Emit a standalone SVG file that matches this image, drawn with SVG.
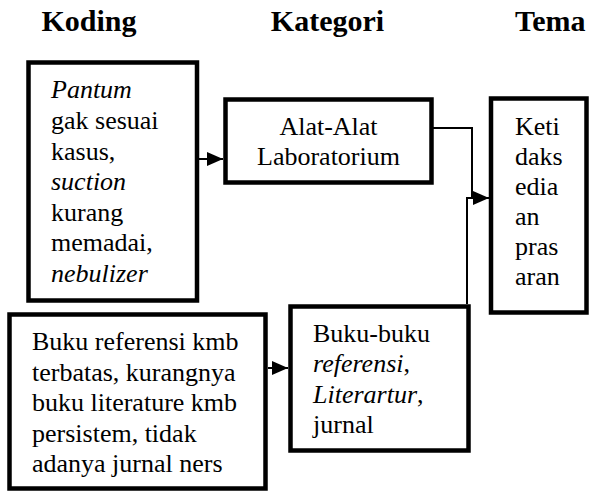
<svg xmlns="http://www.w3.org/2000/svg" width="593" height="492" viewBox="0 0 593 492">
<style>
.box{fill:#fff;stroke:#000;stroke-width:4.5}
.lbl{font-family:'Times New Roman','Liberation Serif',serif;font-size:26px;fill:#000}
.hd{font-family:'Liberation Serif','Times New Roman',serif;font-size:30px;font-weight:bold;fill:#000}
.ln{fill:none;stroke:#000;stroke-width:2}
.it{font-style:italic}
</style>
<defs>
<marker id="ah" viewBox="0 0 16 14" refX="16" refY="7" markerWidth="16" markerHeight="14" markerUnits="userSpaceOnUse" orient="auto">
<path d="M0,0 L16,7 L0,14 Z" fill="#000"/>
</marker>
</defs>
<rect width="593" height="492" fill="#fff"/>
<g id="titles">
<text class="hd" x="89" y="31" text-anchor="middle">Koding</text>
<text class="hd" x="327.5" y="31" text-anchor="middle">Kategori</text>
<text class="hd" x="515" y="31">Tema</text>
</g>
<g id="connectors">
<line class="ln" x1="199" y1="159" x2="223" y2="159" marker-end="url(#ah)"/>
<line class="ln" x1="268" y1="368" x2="288" y2="368" marker-end="url(#ah)"/>
<polyline class="ln" points="433,128 472,128 472,198"/>
<line class="ln" x1="467" y1="304" x2="467" y2="198"/>
<line class="ln" x1="466" y1="198" x2="489" y2="198" marker-end="url(#ah)"/>
<line class="ln" x1="489" y1="198" x2="507" y2="198"/>
</g>
<g id="node-koding1">
<rect class="box" x="28.5" y="62.5" width="168.5" height="238"/>
<text class="lbl" x="51" y="98.3"><tspan class="it">Pantum</tspan><tspan x="51" dy="30.6">gak sesuai</tspan><tspan x="51" dy="30.6">kasus,</tspan><tspan x="51" dy="30.6" class="it">suction</tspan><tspan x="51" dy="30.6">kurang</tspan><tspan x="51" dy="30.6">memadai,</tspan><tspan x="51" dy="30.6" class="it">nebulizer</tspan></text>
</g>
<g id="node-kategori1">
<rect class="box" x="225.5" y="99.5" width="206" height="83"/>
<text class="lbl" x="328.5" y="135" text-anchor="middle">Alat-Alat<tspan x="328.5" dy="30">Laboratorium</tspan></text>
</g>
<g id="node-tema">
<rect class="box" x="491" y="98.5" width="95.5" height="214"/>
<text class="lbl" x="515" y="135">Keti<tspan x="515" dy="30">daks</tspan><tspan x="515" dy="30">edia</tspan><tspan x="515" dy="30">an</tspan><tspan x="515" dy="30">pras</tspan><tspan x="515" dy="30">aran</tspan></text>
</g>
<g id="node-koding2">
<rect class="box" x="9.5" y="314.5" width="256" height="174"/>
<text class="lbl" x="32" y="350">Buku referensi kmb<tspan x="32" dy="30.5">terbatas, kurangnya</tspan><tspan x="32" dy="30.5">buku literature kmb</tspan><tspan x="32" dy="30.5">persistem, tidak</tspan><tspan x="32" dy="30.5">adanya jurnal ners</tspan></text>
</g>
<g id="node-kategori2">
<rect class="box" x="290.5" y="306.5" width="178" height="144"/>
<text class="lbl" x="313" y="342">Buku-buku<tspan x="313" dy="30.3"><tspan class="it">referensi</tspan>,</tspan><tspan x="313" dy="30.3"><tspan class="it">Literartur</tspan>,</tspan><tspan x="313" dy="30.3">jurnal</tspan></text>
</g>
</svg>
